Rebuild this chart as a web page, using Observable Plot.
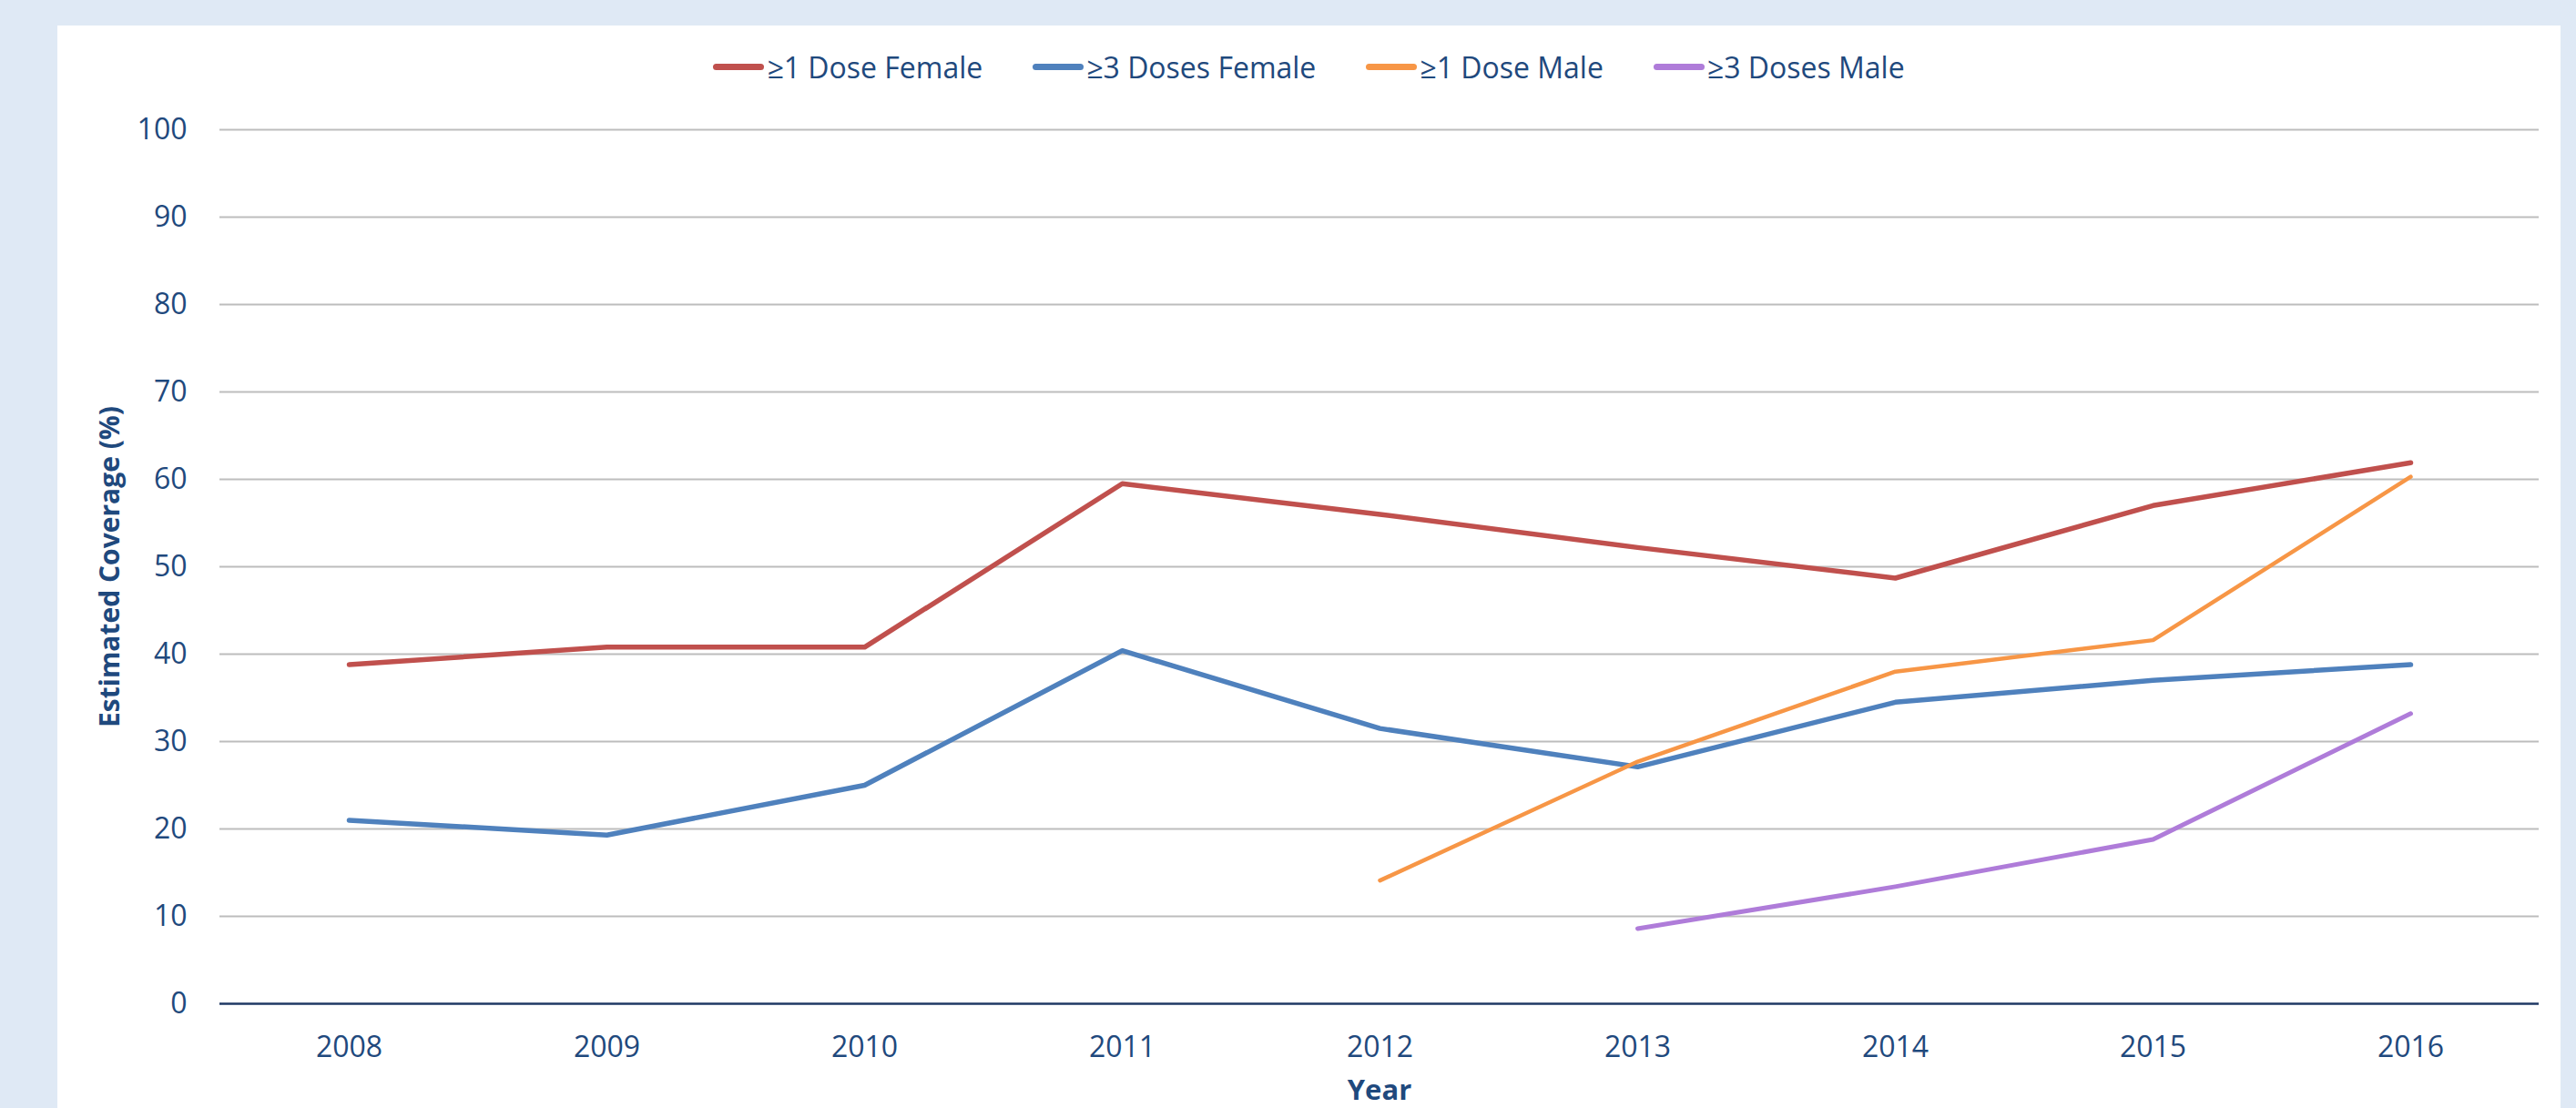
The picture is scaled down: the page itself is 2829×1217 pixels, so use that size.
<!DOCTYPE html>
<html><head><meta charset="utf-8">
<script src="https://cdn.jsdelivr.net/npm/d3@7"></script>
<script src="https://cdn.jsdelivr.net/npm/@observablehq/plot@0.6"></script>
<style>
html,body{margin:0;padding:0;background:#DFE9F5;width:2829px;height:1217px;overflow:hidden;font-family:"Open Sans",sans-serif;}
#panel{position:absolute;left:63px;top:28px;width:2749px;height:1189px;background:#fff;}
#legend{height:90px;display:flex;justify-content:center;align-items:center;gap:55px;color:#1F497D;font-size:32px;}
.item{display:flex;align-items:center;white-space:nowrap;}
.sw{width:56px;height:7px;border-radius:3.5px;margin-right:3px;}
#chart svg{display:block;}
</style></head><body>
<div id="panel"><div id="legend"></div><div id="chart"></div></div>
<script>
const years = ["2008","2009","2010","2011","2012","2013","2014","2015","2016"];
const seriesNames = ["≥1 Dose Female","≥3 Doses Female","≥1 Dose Male","≥3 Doses Male"];
const dose1Female = [38.8, 40.8, 40.8, 59.5, 56.0, 52.2, 48.7, 57.0, 61.9];
const dose3Female = [21.0, 19.3, 25.0, 40.4, 31.5, 27.1, 34.5, 37.0, 38.8];
const dose1Male   = [null, null, null, null, 14.1, 27.7, 38.0, 41.6, 60.3];
const dose3Male   = [null, null, null, null, null, 8.6, 13.4, 18.8, 33.2];
const seriesColors = ["#C0504D","#4F81BD","#F79646","#AF7CD9"];
const seriesWidths = [5.5, 5.5, 4.5, 5];
const yTicks = [0,10,20,30,40,50,60,70,80,90,100];

const allValues = [dose1Female, dose3Female, dose1Male, dose3Male];
const data = seriesNames.flatMap((name, s) =>
  years.map((year, i) => ({series: name, year, value: allValues[s][i]}))
       .filter(d => d.value != null));

// legend
const legend = document.getElementById("legend");
seriesNames.forEach((name, s) => {
  const item = document.createElement("div");
  item.className = "item";
  const sw = document.createElement("span");
  sw.className = "sw";
  sw.style.background = seriesColors[s];
  const label = document.createElement("span");
  label.textContent = name;
  item.appendChild(sw); item.appendChild(label);
  legend.appendChild(item);
});

const textColor = "#1F497D";
const chart = Plot.plot({
  width: 2749,
  height: 1099,
  marginLeft: 178,
  marginRight: 24,
  marginTop: 24,
  marginBottom: 115,
  style: {fontFamily: "'Open Sans', sans-serif", fontSize: "32px", color: textColor, background: "#fff"},
  x: {type: "point", domain: years, padding: 0.5, align: 0.5, label: null},
  y: {domain: [0, 100], label: null},
  color: {domain: seriesNames, range: seriesColors},
  marks: [
    Plot.gridY(yTicks.filter(t => t > 0), {stroke: "#BDBDBD", strokeOpacity: 1, strokeWidth: 2}),
    Plot.ruleY([0], {stroke: "#1F3864", strokeWidth: 2.5}),
    Plot.axisY(yTicks, {tickSize: 0, tickPadding: 36, fontSize: 32, fill: textColor, label: null}),
    Plot.axisX({tickSize: 0, tickPadding: 36, fontSize: 32, fill: textColor, label: null}),
    ...seriesNames.map((name, s) =>
      Plot.line(data.filter(d => d.series === name), {
        x: "year", y: "value", stroke: seriesColors[s], strokeWidth: seriesWidths[s],
        strokeLinejoin: "round", strokeLinecap: "round"
      })),
    Plot.text(["Year"], {frameAnchor: "bottom", dy: 96, lineAnchor: "middle", fontWeight: "bold", fontSize: 31, fill: textColor}),
    Plot.text(["Estimated Coverage (%)"], {frameAnchor: "left", dx: -120, rotate: -90, lineAnchor: "middle", textAnchor: "middle", fontWeight: "bold", fontSize: 30, fill: textColor})
  ]
});
document.getElementById("chart").appendChild(chart);
</script>
</body></html>
